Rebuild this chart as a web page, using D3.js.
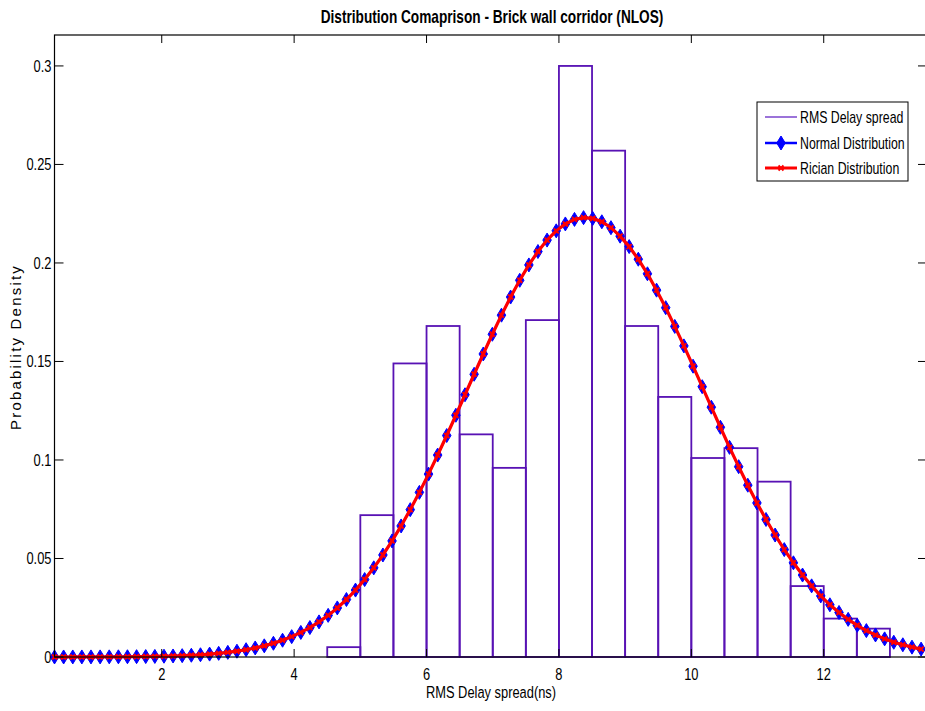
<!DOCTYPE html>
<html>
<head>
<meta charset="utf-8">
<script src="https://cdn.jsdelivr.net/npm/d3@7"></script>
<style>
  html, body { margin: 0; padding: 0; background: #fff; }
  svg text { font-family: "Liberation Sans", Arial, sans-serif; fill: #000; }
</style>
</head>
<body>
<svg id="chart" width="925" height="711"></svg>
<script>
// Histogram of measured RMS delay spread (bin start, bin width 0.5 ns)
const binStarts = [4.5, 5.0, 5.5, 6.0, 6.5, 7.0, 7.5, 8.0, 8.5, 9.0, 9.5, 10.0, 10.5, 11.0, 11.5, 12.0, 12.5];
const binWidth = 0.5;
const binDensity = [0.005, 0.072, 0.149, 0.168, 0.113, 0.096, 0.171, 0.300, 0.257, 0.168, 0.132, 0.101, 0.106, 0.089, 0.036, 0.0195, 0.0144];

// Sample points of the fitted curves (ns)
const samplePoints = [
  0.380, 0.518, 0.656, 0.793, 0.931, 1.069, 1.207, 1.345, 1.482, 1.620,
  1.758, 1.896, 2.034, 2.171, 2.309, 2.447, 2.585, 2.723, 2.860, 2.998,
  3.136, 3.274, 3.412, 3.549, 3.687, 3.825, 3.963, 4.101, 4.238, 4.376,
  4.514, 4.652, 4.790, 4.927, 5.065, 5.203, 5.341, 5.479, 5.616, 5.754,
  5.892, 6.030, 6.168, 6.305, 6.443, 6.581, 6.719, 6.857, 6.994, 7.132,
  7.270, 7.408, 7.546, 7.683, 7.821, 7.959, 8.097, 8.235, 8.372, 8.510,
  8.648, 8.786, 8.924, 9.061, 9.199, 9.337, 9.475, 9.613, 9.750, 9.888,
  10.026, 10.164, 10.302, 10.439, 10.577, 10.715, 10.853, 10.991, 11.128, 11.266,
  11.404, 11.542, 11.680, 11.817, 11.955, 12.093, 12.231, 12.369, 12.506, 12.644,
  12.782, 12.920, 13.058, 13.195, 13.333, 13.471
];

// Normal distribution fit
const normalDensity = [
  0.00001, 0.00001, 0.00002, 0.00003, 0.00004, 0.00005, 0.00007, 0.00009, 0.00013, 0.00017,
  0.00023, 0.00030, 0.00040, 0.00052, 0.00068, 0.00089, 0.00114, 0.00146, 0.00186, 0.00235,
  0.00295, 0.00369, 0.00459, 0.00567, 0.00697, 0.00851, 0.01033, 0.01247, 0.01494, 0.01782,
  0.02113, 0.02491, 0.02917, 0.03396, 0.03931, 0.04525, 0.05178, 0.05892, 0.06652, 0.07479,
  0.08356, 0.09283, 0.1025, 0.1124, 0.1227, 0.1331, 0.1435, 0.1538, 0.1638, 0.1735,
  0.1827, 0.1912, 0.1990, 0.2058, 0.2116, 0.2163, 0.2198, 0.2221, 0.2230, 0.2226,
  0.2209, 0.2179, 0.2136, 0.2083, 0.2019, 0.1945, 0.1862, 0.1773, 0.1678, 0.1579,
  0.1476, 0.1372, 0.1268, 0.1166, 0.1064, 0.0966, 0.0872, 0.0782, 0.0698, 0.0619,
  0.0545, 0.0478, 0.0416, 0.0361, 0.0310, 0.0265, 0.0226, 0.0191, 0.0161, 0.0134,
  0.0112, 0.0092, 0.0075, 0.0062, 0.0050, 0.0040
];

// Rician distribution fit
const ricianDensity = [
  0.00001, 0.00001, 0.00002, 0.00003, 0.00004, 0.00005, 0.00007, 0.00009, 0.00013, 0.00017,
  0.00023, 0.00030, 0.00040, 0.00052, 0.00068, 0.00089, 0.00114, 0.00146, 0.00186, 0.00235,
  0.00295, 0.00369, 0.00459, 0.00567, 0.00697, 0.00851, 0.01033, 0.01247, 0.01494, 0.01782,
  0.02113, 0.02491, 0.02917, 0.03396, 0.03931, 0.04525, 0.05178, 0.05892, 0.06652, 0.07479,
  0.08356, 0.09283, 0.1025, 0.1124, 0.1227, 0.1331, 0.1435, 0.1538, 0.1638, 0.1735,
  0.1827, 0.1912, 0.1990, 0.2058, 0.2116, 0.2163, 0.2198, 0.2221, 0.2230, 0.2226,
  0.2209, 0.2179, 0.2136, 0.2083, 0.2019, 0.1945, 0.1862, 0.1773, 0.1678, 0.1579,
  0.1476, 0.1372, 0.1268, 0.1166, 0.1064, 0.0966, 0.0872, 0.0782, 0.0698, 0.0619,
  0.0545, 0.0478, 0.0416, 0.0361, 0.0310, 0.0265, 0.0226, 0.0191, 0.0161, 0.0134,
  0.0112, 0.0092, 0.0075, 0.0062, 0.0050, 0.0040
];

const xTicks = [2, 4, 6, 8, 10, 12];
const yTicks = [0, 0.05, 0.1, 0.15, 0.2, 0.25, 0.3];
const yTickLabels = ["0", "0.05", "0.1", "0.15", "0.2", "0.25", "0.3"];
const legendLabels = ["RMS Delay spread", "Normal Distribution", "Rician Distribution"];

const titleText = "Distribution Comaprison - Brick wall corridor (NLOS)";
const xLabelText = "RMS Delay spread(ns)";
const yLabelText = "Probability Density";

const svg = d3.select("#chart");
const plot = { left: 54.5, top: 35, right: 927, bottom: 657 };

const x = d3.scaleLinear().domain([0.38, 13.56]).range([plot.left, plot.right]);
const y = d3.scaleLinear().domain([0, 0.3157]).range([plot.bottom, plot.top]);

const histColor = "#5812b4";
const normalColor = "#0000ff";
const ricianColor = "#ff0000";

// Condensed text: horizontally squeezed sans to mimic a narrow face
const NARROW = 0.78;
function narrowText(g, px, py, str, size, anchor, weight) {
  return g.append("text")
    .attr("transform", `translate(${px},${py}) scale(${NARROW},1)`)
    .attr("text-anchor", anchor || "start")
    .attr("font-size", size)
    .attr("font-weight", weight || "normal")
    .text(str);
}

// Histogram outline bars
svg.append("g").selectAll("rect")
  .data(binStarts.map((s, i) => ({ s, v: binDensity[i] })))
  .join("rect")
  .attr("x", d => x(d.s))
  .attr("y", d => y(d.v))
  .attr("width", d => x(d.s + binWidth) - x(d.s))
  .attr("height", d => y(0) - y(d.v))
  .attr("fill", "none")
  .attr("stroke", histColor)
  .attr("stroke-width", 1.8);

const normalPts = samplePoints.map((t, i) => [t, normalDensity[i]]);
const ricianPts = samplePoints.map((t, i) => [t, ricianDensity[i]]);
const line = d3.line().x(d => x(d[0])).y(d => y(d[1]));

// Normal curve with diamond markers
svg.append("path").datum(normalPts)
  .attr("d", line).attr("fill", "none")
  .attr("stroke", normalColor).attr("stroke-width", 2);

const diamond = (cx, cy, w, h) => `M${cx},${cy - h / 2}L${cx + w / 2},${cy}L${cx},${cy + h / 2}L${cx - w / 2},${cy}Z`;
svg.append("g").selectAll("path")
  .data(normalPts).join("path")
  .attr("d", d => diamond(x(d[0]), y(d[1]), 8.5, 14))
  .attr("fill", normalColor).attr("stroke", normalColor).attr("stroke-width", 1);

// Rician curve with small markers
svg.append("path").datum(ricianPts)
  .attr("d", line).attr("fill", "none")
  .attr("stroke", ricianColor).attr("stroke-width", 3.2);

const cross = (cx, cy, s) => `M${cx - s},${cy - s}L${cx + s},${cy + s}M${cx - s},${cy + s}L${cx + s},${cy - s}`;
svg.append("g").selectAll("path")
  .data(ricianPts).join("path")
  .attr("d", d => cross(x(d[0]), y(d[1]), 2.5))
  .attr("fill", "none").attr("stroke", ricianColor).attr("stroke-width", 2);

// Axes box with inward ticks
const axisG = svg.append("g");
axisG.append("rect")
  .attr("x", plot.left).attr("y", plot.top)
  .attr("width", plot.right - plot.left).attr("height", plot.bottom - plot.top)
  .attr("fill", "none").attr("stroke", "#000").attr("stroke-width", 1.2);

xTicks.forEach(t => {
  axisG.append("line").attr("x1", x(t)).attr("x2", x(t))
    .attr("y1", plot.bottom).attr("y2", plot.bottom - 8).attr("stroke", "#000");
  axisG.append("line").attr("x1", x(t)).attr("x2", x(t))
    .attr("y1", plot.top).attr("y2", plot.top + 8).attr("stroke", "#000");
  narrowText(axisG, x(t), plot.bottom + 23, t, 16.5, "middle");
});

yTicks.forEach((t, i) => {
  axisG.append("line").attr("x1", plot.left).attr("x2", plot.left + 9)
    .attr("y1", y(t)).attr("y2", y(t)).attr("stroke", "#000");
  axisG.append("line").attr("x1", plot.right).attr("x2", plot.right - 9)
    .attr("y1", y(t)).attr("y2", y(t)).attr("stroke", "#000");
  narrowText(axisG, plot.left - 3, y(t) + 6, yTickLabels[i], 16.5, "end");
});

// Titles
narrowText(svg, 492, 23, titleText, 17.5, "middle", "bold");
narrowText(svg, 491, 698, xLabelText, 16.5, "middle");

svg.append("text")
  .attr("transform", "translate(21,347) rotate(-90)")
  .attr("text-anchor", "middle").attr("font-size", 15)
  .attr("letter-spacing", 2.2)
  .text(yLabelText);

// Legend
const lg = svg.append("g");
lg.append("rect").attr("x", 757).attr("y", 102).attr("width", 151).attr("height", 79)
  .attr("fill", "#fff").attr("stroke", "#000").attr("stroke-width", 1);
const rowY = [117, 143, 168];
lg.append("line").attr("x1", 765).attr("x2", 797).attr("y1", rowY[0]).attr("y2", rowY[0])
  .attr("stroke", "#7a44cc").attr("stroke-width", 1.5);
lg.append("line").attr("x1", 765).attr("x2", 797).attr("y1", rowY[1]).attr("y2", rowY[1])
  .attr("stroke", normalColor).attr("stroke-width", 2.5);
lg.append("path").attr("d", diamond(781, rowY[1], 8.5, 14)).attr("fill", normalColor).attr("stroke", normalColor);
lg.append("line").attr("x1", 765).attr("x2", 797).attr("y1", rowY[2]).attr("y2", rowY[2])
  .attr("stroke", ricianColor).attr("stroke-width", 3);
lg.append("path").attr("d", cross(781, rowY[2], 2.5)).attr("fill", "none").attr("stroke", ricianColor).attr("stroke-width", 2);
legendLabels.forEach((l, i) => {
  narrowText(lg, 800, rowY[i] + 6, l, 15.8, "start");
});
</script>
</body>
</html>
